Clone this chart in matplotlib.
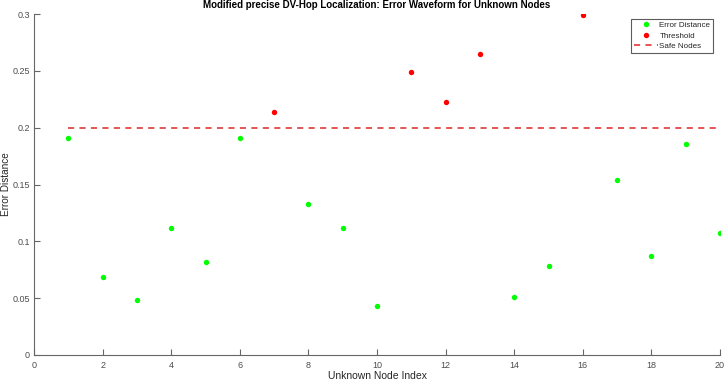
import numpy as np
import matplotlib
matplotlib.use("Agg")
import matplotlib.pyplot as plt

plt.rcParams['font.family'] = ['Liberation Sans', 'DejaVu Sans']

node_index = list(range(1, 21))
error_distance = [0.191, 0.069, 0.048, 0.112, 0.082, 0.191, 0.214, 0.133, 0.112, 0.043,
                  0.249, 0.223, 0.265, 0.051, 0.078, 0.299, 0.154, 0.087, 0.186, 0.107]
threshold = 0.2
xticks = [0, 2, 4, 6, 8, 10, 12, 14, 16, 18, 20]
yticks = [0, 0.05, 0.1, 0.15, 0.2, 0.25, 0.3]
ytick_labels = ['0', '0.05', '0.1', '0.15', '0.2', '0.25', '0.3']

x = np.array(node_index)
y = np.array(error_distance)
safe = y <= threshold

fig = plt.figure(figsize=(7.24, 3.82), dpi=100)
ax = fig.add_axes([34/724, 1-355/382, (720-34)/724, (355-14)/382])

ax.plot(x[safe], y[safe], 'o', color=(0, 1, 0), markersize=3.9, markeredgewidth=0, linestyle='none',
        label='Error Distance')
ax.plot(x[~safe], y[~safe], 'o', color=(1, 0, 0), markersize=3.9, markeredgewidth=0, linestyle='none',
        label='Threshold')
ax.plot([node_index[0], node_index[-1]], [threshold, threshold], '--', color=(0.87, 0.15, 0.15),
        linewidth=1.1, dashes=(4, 3.5), label='Safe Nodes')

ax.set_xlim(0, 20)
ax.set_ylim(0, 0.3)
ax.set_xticks(xticks)
ax.set_yticks(yticks)
ax.set_yticklabels(ytick_labels)

gray = (0.15, 0.15, 0.15)
for s in ['top', 'right']:
    ax.spines[s].set_visible(False)
for s in ['left', 'bottom']:
    ax.spines[s].set_color((0.4, 0.4, 0.4))
    ax.spines[s].set_linewidth(0.8)
ax.tick_params(direction='in', length=4, width=0.8, colors=(0.4, 0.4, 0.4), labelsize=6.5,
               labelcolor=(0.3, 0.3, 0.3))
ax.tick_params(axis='x', pad=4)
ax.tick_params(axis='y', pad=3)

ax.set_xlabel('Unknown Node Index', fontsize=7.5, color=gray, labelpad=1)
ax.set_ylabel('Error Distance', fontsize=7.2, color=gray)
ax.yaxis.set_label_coords(-0.0335, 0.5)
ax.set_title('Modified precise DV-Hop Localization: Error Waveform for Unknown Nodes',
             fontsize=7, fontweight='bold', color='black', pad=4)

leg = ax.legend(loc='upper right', bbox_to_anchor=(0.9895, 0.985), fontsize=5.8, frameon=True,
                fancybox=False, edgecolor=(0.2, 0.2, 0.2), borderpad=0.3, labelspacing=0.35,
                handlelength=3.0, handletextpad=0.2, borderaxespad=0)
leg.get_frame().set_linewidth(0.8)
for t in leg.get_texts():
    t.set_color(gray)

fig.savefig('out.png', dpi=100)
